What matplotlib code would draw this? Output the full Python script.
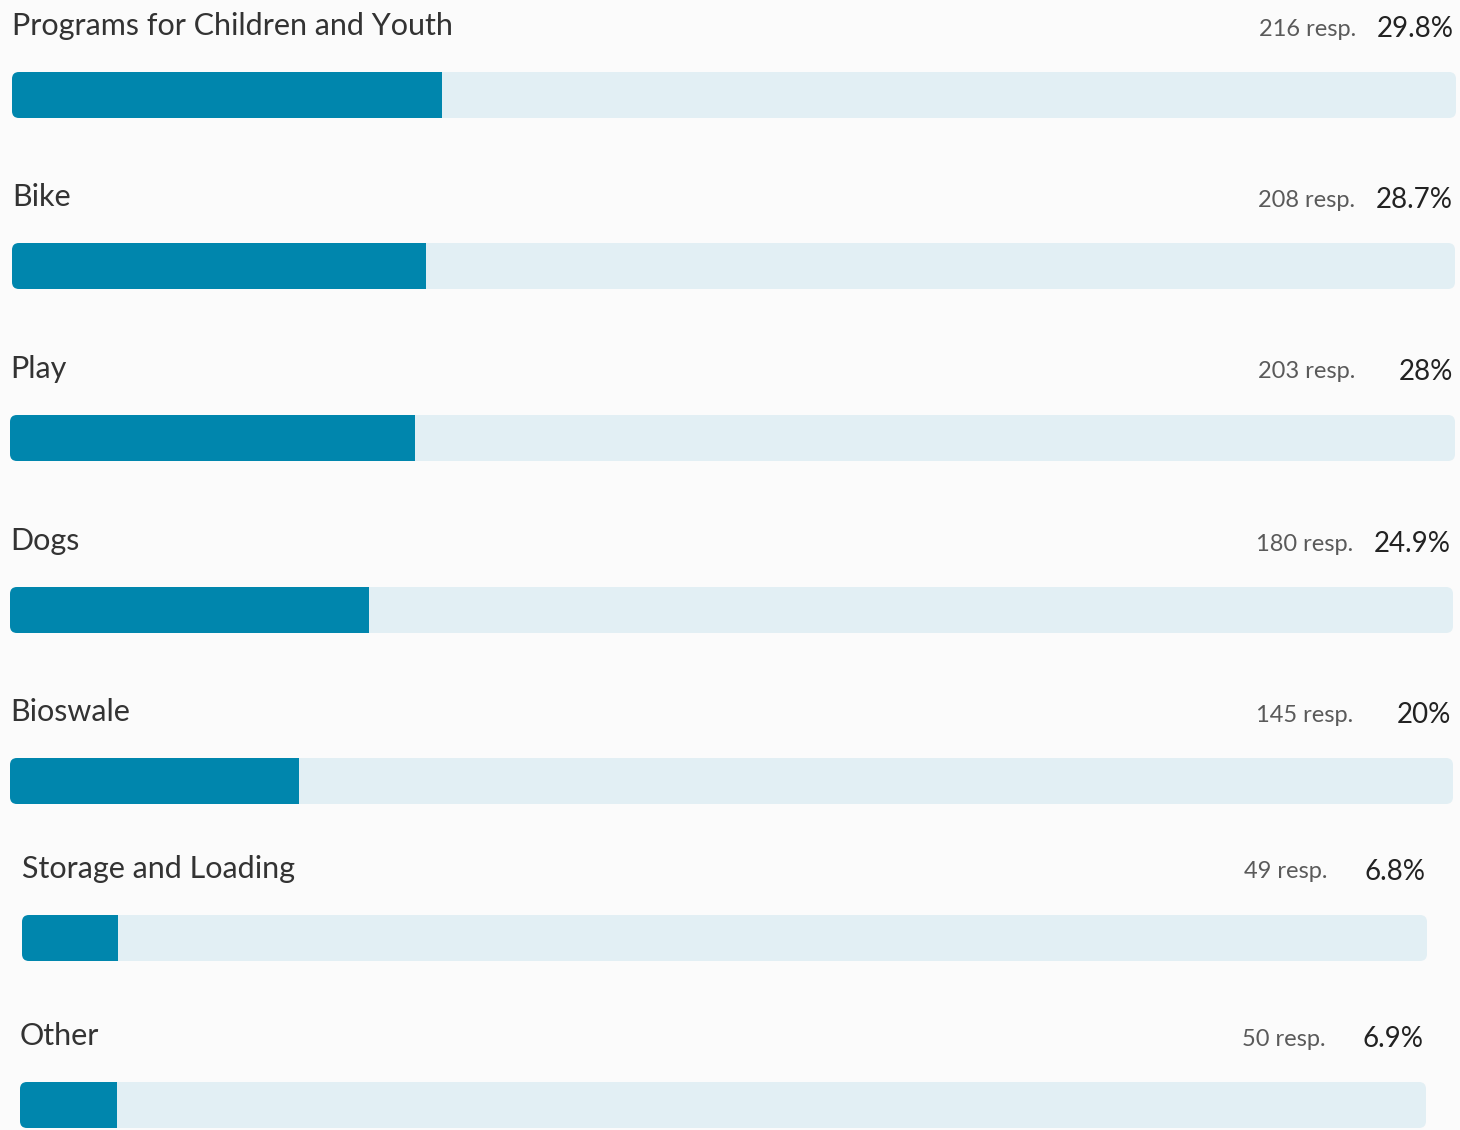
import matplotlib.pyplot as plt
from matplotlib.patches import FancyBboxPatch

# survey results
categories = ["Programs for Children and Youth", "Bike", "Play", "Dogs",
              "Bioswale", "Storage and Loading", "Other"]
responses = [216, 208, 203, 180, 145, 49, 50]
percents = [29.8, 28.7, 28.0, 24.9, 20.0, 6.8, 6.9]

# layout of each row in pixels (the source is a stitched screenshot)
W, H = 1460, 1130
bar_top = [72, 243, 415, 587, 758, 915, 1082]
bar_left = [12, 12, 10, 10, 10, 22, 20]
bar_right = [1456, 1455, 1455, 1453, 1453, 1427, 1426]
bar_h = 46

fill_color = "#0086ad"
track_color = "#e2eff4"
bg_color = "#fbfbfb"

plt.rcParams['font.family'] = ['Lato', 'DejaVu Sans']

fig = plt.figure(figsize=(W / 100, H / 100), dpi=100)
fig.patch.set_facecolor(bg_color)

for i, name in enumerate(categories):
    left, right, top = bar_left[i], bar_right[i], bar_top[i]
    width_px = right - left
    ax = fig.add_axes([left / W, 1 - (top + bar_h) / H, width_px / W, bar_h / H])
    ax.set_xlim(0, 100)
    ax.set_ylim(0, 1)
    ax.axis("off")

    track = ax.barh(0.5, 100, height=1, color=track_color, linewidth=0)
    fill = ax.barh(0.5, percents[i], height=1, color=fill_color, linewidth=0)

    # rounded outline used to clip both bars
    r = 7 / width_px * 100
    clip = FancyBboxPatch((0, 0), 100, 1,
                          boxstyle=f"round,pad=0,rounding_size={r}",
                          mutation_aspect=(7 / bar_h) / r,
                          transform=ax.transData, facecolor="none", edgecolor="none")
    ax.add_patch(clip)
    for b in list(track) + list(fill):
        b.set_clip_path(clip)

    ty = 1 - (top - 46) / H
    fig.text(left / W, ty, name, fontsize=22, color="#333333",
             ha="left", va="center")
    fig.text((right - 100) / W, ty - 3 / H, f"{responses[i]} resp.", fontsize=17,
             color="#5a5a5a", ha="right", va="center")
    fig.text((right - 2) / W, ty - 3 / H, f"{percents[i]:g}%", fontsize=20,
             color="#222222", ha="right", va="center")

fig.savefig("out.png", dpi=100, facecolor=fig.get_facecolor())
